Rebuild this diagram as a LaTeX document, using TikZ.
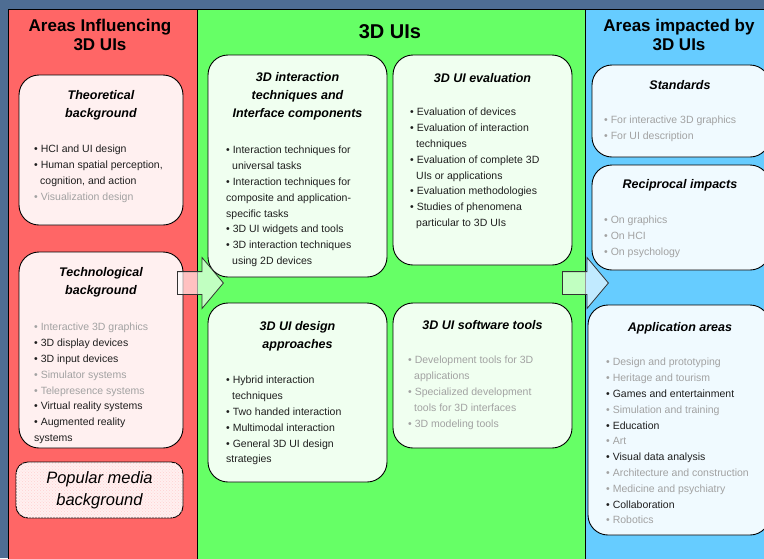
\documentclass[tikz,border=0pt]{standalone}
\usepackage{fontspec}
\setmainfont{Liberation Sans}
\usetikzlibrary{shapes.arrows,patterns}

\definecolor{slate}{HTML}{4E6D93}
\definecolor{influence}{HTML}{FF6666}
\definecolor{core}{HTML}{66FF66}
\definecolor{impact}{HTML}{66CCFF}
\definecolor{faded}{HTML}{A2A2A2}
\definecolor{ink}{HTML}{1E1E1E}

\newcommand{\bul}{\textbullet\ }
\newcommand{\wrap}{\hspace*{6pt}}
\newcommand{\fd}[1]{\textcolor{faded}{#1}}

\tikzset{
    topic/.style={draw=black, line width=0.9pt, rounded corners=20pt, inner sep=0pt},
    coltitle/.style={font=\fontsize{17}{19}\selectfont\bfseries, align=center},
    boxtitle/.style={font=\fontsize{12.5}{18}\selectfont\bfseries\itshape, align=center},
    items/.style={font=\fontsize{10.5}{15.8}\selectfont, text=ink, align=left, anchor=north west, inner sep=0pt},
    flow/.style={single arrow, draw=black!80, line width=0.8pt, fill=white, fill opacity=0.6,
        inner sep=11pt, minimum height=46pt, single arrow head extend=14pt, single arrow tip angle=100, anchor=tail}
}

\begin{document}
\begin{tikzpicture}[x=1pt, y=-1pt]
    \fill[slate] (0,0) rectangle (764,558);
    \useasboundingbox (0,0) rectangle (764,558);
    \draw[fill=influence] (8,9) rectangle (197,562);
    \draw[fill=core] (197,9) rectangle (585,562);
    \draw[fill=impact] (585,9) rectangle (768,562);

    \node[coltitle] (infl-h) at (100,35) {Areas Influencing\\3D UIs};
    \node[coltitle, font=\fontsize{20}{22}\selectfont\bfseries] (uis-h) at (390,32) {3D UIs};
    \node[coltitle] (imp-h) at (679,35) {Areas impacted by\\3D UIs};

    \foreach \n/\x/\y/\w/\h/\c in {theo/101/150/164/150/influence, tech/101/350/164/196/influence,
        inter/297.5/166/179/222/core, eval/482.5/160/179/210/core, design/297.5/392.5/179/179/core, soft/482.5/375.5/179/145/core,
        std/681/111/178/92/impact, recip/681/217.5/178/105/impact, app/679/420/182/230/impact}
        \node[topic, fill=\c!10, minimum width=\w pt, minimum height=\h pt] (\n) at (\x,\y) {};

    \node[topic, rounded corners=12pt, fill=influence!10, postaction={pattern=crosshatch dots, pattern color=influence!30},
        minimum width=167pt, minimum height=56pt, align=center, font=\fontsize{16.5}{22}\selectfont\itshape] (media) at (99.5,490) {Popular media\\background};

    \foreach \n/\x/\y/\t in {theo/101/105/{Theoretical\\background}, tech/101/282/{Technological\\background},
        inter/297.5/96/{3D interaction\\techniques and\\Interface components}, eval/482.5/78/{3D UI evaluation},
        design/297.5/336/{3D UI design\\approaches}, soft/482.5/325/{3D UI software tools},
        std/680/85/{Standards}, recip/680/185/{Reciprocal impacts}, app/680/328/{Application areas}}
        \node[boxtitle] (\n-t) at (\x,\y) {\t};

    \node[items] (theo-l) at (34,145) {\bul HCI and UI design\\\bul Human spatial perception,\\\wrap cognition, and action\\\fd{\bul Visualization design}};
    \node[items] (tech-l) at (34,323) {\fd{\bul Interactive 3D graphics}\\\bul 3D display devices\\\bul 3D input devices\\\fd{\bul Simulator systems}\\\fd{\bul Telepresence systems}\\\bul Virtual reality systems\\\bul Augmented reality\\systems};
    \node[items] (inter-l) at (226,146) {\bul Interaction techniques for\\\wrap universal tasks\\\bul Interaction techniques for\\composite and application-\\specific tasks\\\bul 3D UI widgets and tools\\\bul 3D interaction techniques\\\wrap using 2D devices};
    \node[items] (eval-l) at (410,108) {\bul Evaluation of devices\\\bul Evaluation of interaction\\\wrap techniques\\\bul Evaluation of complete 3D\\\wrap UIs or applications\\\bul Evaluation methodologies\\\bul Studies of phenomena\\\wrap particular to 3D UIs};
    \node[items] (design-l) at (226,376) {\bul Hybrid interaction\\\wrap techniques\\\bul Two handed interaction\\\bul Multimodal interaction\\\bul General 3D UI design\\strategies};
    \node[items, text=faded] (soft-l) at (408,356) {\bul Development tools for 3D\\\wrap applications\\\bul Specialized development\\\wrap tools for 3D interfaces\\\bul 3D modeling tools};
    \node[items, text=faded] (std-l) at (604,116) {\bul For interactive 3D graphics\\\bul For UI description};
    \node[items, text=faded] (recip-l) at (604,216) {\bul On graphics\\\bul On HCI\\\bul On psychology};
    \node[items] (app-l) at (606,358) {\fd{\bul Design and prototyping}\\\fd{\bul Heritage and tourism}\\\bul Games and entertainment\\\fd{\bul Simulation and training}\\\bul Education\\\fd{\bul Art}\\\bul Visual data analysis\\\fd{\bul Architecture and construction}\\\fd{\bul Medicine and psychiatry}\\\bul Collaboration\\\fd{\bul Robotics}};

    \node[flow] (into) at (177,283) {};
    \node[flow] (outof) at (562,283) {};
\end{tikzpicture}
\end{document}
